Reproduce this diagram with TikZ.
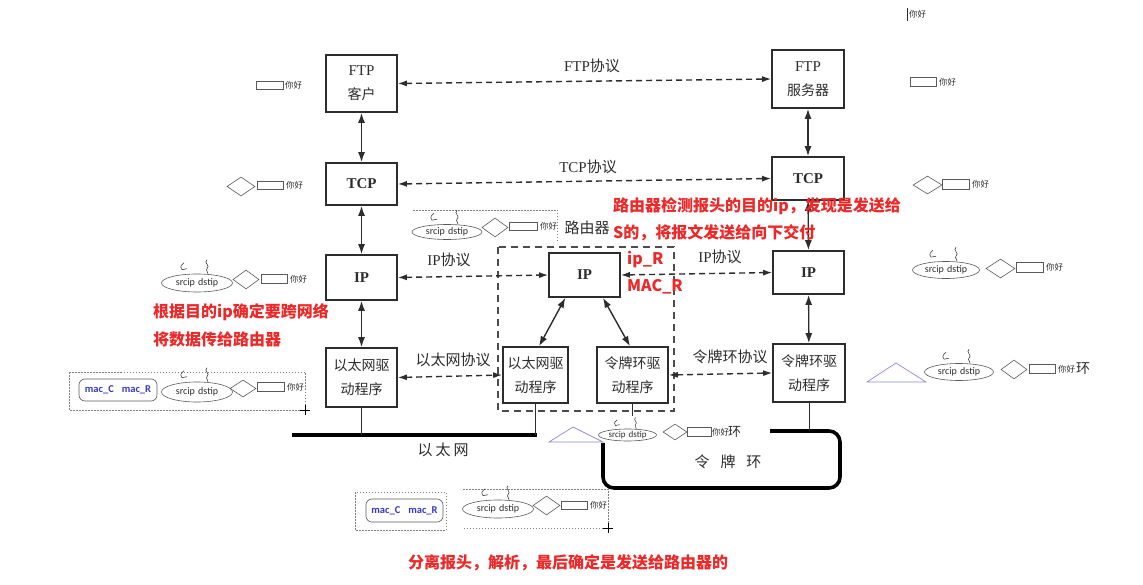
\documentclass[tikz,border=0pt]{standalone}
\usepackage{fontspec}
\setmainfont{Liberation Serif}
\newfontfamily\cjk{Noto Sans CJK SC}
\newfontfamily\carl{Carlito}
\usetikzlibrary{arrows.meta,shapes.geometric}
\definecolor{ink}{RGB}{45,45,45}
\definecolor{redtxt}{RGB}{236,40,40}
\definecolor{macblue}{RGB}{55,55,200}
\definecolor{tri}{RGB}{140,140,215}
\definecolor{thin}{RGB}{90,90,90}
\tikzset{
  box/.style={draw=ink, line width=1.6pt, fill=white, inner sep=0pt, align=center, text=ink,
    font=\fontsize{15}{24}\selectfont},
  cbox/.style={box, font=\cjk\fontsize{14}{24}\selectfont},
  prot/.style={text=ink, inner sep=0pt, font=\fontsize{15}{18}\selectfont},
  biarrow/.style={{Latex[length=10pt,width=7pt]}-{Latex[length=10pt,width=7pt]}, line width=1.4pt, draw=ink},
  dasharrow/.style={{Latex[length=9pt,width=6pt]}-{Latex[length=9pt,width=6pt]}, line width=1.4pt, draw=ink,
    dash pattern=on 6pt off 4pt},
  rdash/.style={draw=ink!85, line width=1.6pt, dash pattern=on 7pt off 5pt},
  bus/.style={draw=black, line width=3.6pt},
  link/.style={draw=ink, line width=0.9pt},
  redlab/.style={text=redtxt, inner sep=0pt, anchor=west, font=\cjk\bfseries\fontsize{16}{18}\selectfont},
  sell/.style={ellipse, draw=thin, line width=0.6pt, inner sep=0pt, text=ink, font=\carl\fontsize{10}{12}\selectfont},
  sdiam/.style={diamond, draw=thin, line width=0.6pt, inner sep=0pt, minimum width=27pt, minimum height=19pt},
  srect/.style={draw=thin, line width=0.6pt, inner sep=0pt, minimum width=27pt, minimum height=9pt},
  hi/.style={text=ink, inner sep=0pt, anchor=west, font=\cjk\fontsize{8.5}{10}\selectfont},
  macbox/.style={draw=thin, line width=0.6pt, rounded corners=6pt, inner sep=0pt, text=macblue,
    font=\carl\bfseries\fontsize{10.5}{12}\selectfont},
  dotbox/.style={draw=gray, line width=0.5pt, dash pattern=on 1.5pt off 1.5pt},
  trishape/.style={draw=tri, line width=0.7pt},
  squig/.pic={
    \draw[line width=0.5pt, ink] (-13,-11) .. controls (-17,-8) and (-17,-5) .. (-15,-4) -- (-10,-5);
    \draw[line width=0.5pt, ink] (10,-14) .. controls (6,-11) and (14,-8) .. (10,-5) .. controls (8,-3) and (12,-2) .. (11,0);
  }
}
\begin{document}
\begin{tikzpicture}[x=1pt,y=-1pt]
\useasboundingbox[fill=white] (0,0) rectangle (1143,585);

% router frame
\draw[rdash] (498,247) rectangle (674,411);
\node[prot] (rlab) at (587,228) {\cjk 路由器};

% main boxes
\node[box, minimum width=71pt, minimum height=57pt] (ftpc) at (361.5,83.5) {FTP\\\cjk\fontsize{14}{24}\selectfont 客户};
\node[box, minimum width=71pt, minimum height=42pt] (tcpl) at (361.5,184) {\bfseries TCP};
\node[box, minimum width=71pt, minimum height=45pt] (ipl) at (361.5,277.5) {\bfseries IP};
\node[cbox, minimum width=71pt, minimum height=59pt] (ethl) at (361.5,377.5) {以太网驱\\动程序};
\node[box, minimum width=72pt, minimum height=58pt] (ftps) at (808,79) {FTP\\\cjk\fontsize{14}{24}\selectfont 服务器};
\node[box, minimum width=72pt, minimum height=43pt] (tcpr) at (808,178.5) {\bfseries TCP};
\node[box, minimum width=71pt, minimum height=43pt] (ipr) at (808.5,272.5) {\bfseries IP};
\node[cbox, minimum width=72pt, minimum height=58pt] (tokr) at (809,373) {令牌环驱\\动程序};
\node[box, minimum width=71pt, minimum height=44pt] (ipm) at (584.5,275) {\bfseries IP};
\node[cbox, minimum width=65pt, minimum height=56pt] (ethm) at (535.5,375) {以太网驱\\动程序};
\node[cbox, minimum width=71pt, minimum height=56pt] (tokm) at (632.5,375) {令牌环驱\\动程序};

% protocol labels
\node[prot] (lftp) at (592,66) {FTP\cjk 协议};
\node[prot] (ltcp) at (588,167) {TCP\cjk 协议};
\node[prot] (lip1) at (449,260) {IP\cjk 协议};
\node[prot] (lip2) at (720,257) {IP\cjk 协议};
\node[prot] (leth) at (453,360) {\cjk 以太网协议};
\node[prot] (ltok) at (730,357) {\cjk 令牌环协议};
\node[prot] (lnet) at (443,450) {\cjk 以\hspace{3pt}太\hspace{3pt}网};
\node[prot] (lring) at (728,462) {\cjk 令\hspace{11pt}牌\hspace{11pt}环};

% vertical stack arrows
\draw[biarrow] (ftpc) -- (tcpl);
\draw[biarrow] (tcpl) -- (ipl);
\draw[biarrow] (ipl) -- (ethl);
\draw[biarrow] (ftps) -- (tcpr);
\draw[biarrow] (tcpr) -- (ipr);
\draw[biarrow] (ipr) -- (tokr);
\draw[biarrow] (ipm.230) -- (ethm.83);
\draw[biarrow] (ipm.309) -- (tokm.95);

% peer protocol arrows
\draw[dasharrow] (ftpc.east) -- (ftps.west);
\draw[dasharrow] (tcpl.east) -- (tcpr.west);
\draw[dasharrow] (ipl.east) -- (ipm.west);
\draw[dasharrow] (ipm.east) -- (ipr.west);
\draw[dasharrow] (ethl.east) -- (ethm.west);
\draw[dasharrow] (tokm.east) -- (tokr.west);

% ethernet bus
\coordinate (busL) at (292,435);
\coordinate (busR) at (537,435);
\draw[bus] (busL) -- (busR);
\draw[link] (ethl.south) -- (ethl.south |- busL);
\draw[link] (ethm.south) -- (ethm.south |- busL);

% token ring
\coordinate (ringT) at (770,431);
\draw[bus, rounded corners=11pt] (ringT) -- (840,431) -- (840,488) -- (603,488) -- (603,443);
\draw[link] (tokr.south) -- (tokr.south |- ringT);
\coordinate (tokmEnd) at (632.5,416);
\draw[link] (tokm.south) -- (tokmEnd);

% red notes
\node[redlab] (n1) at (153,312) {根据目的ip确定要跨网络};
\node[redlab] (n2) at (153,339) {将数据传给路由器};
\node[redlab] (n3) at (613,206) {路由器检测报头的目的ip，发现是发送给};
\node[redlab] (n4) at (613,233) {S的，将报文发送给向下交付};
\node[redlab] (n5) at (627,260) {ip\_R};
\node[redlab] (n6) at (627,287) {MAC\_R};
\node[redlab] (n7) at (408,563) {分离报头，解析，最后确定是发送给路由器的};

% top-right marker
\draw[ink, line width=0.6pt] (907,8) -- (907,21);
\node[hi] (h0) at (909,14) {你好};

% FTP level annotations
\node[srect, minimum width=27pt, minimum height=8pt] (rB) at (269.5,85) {};
\node[hi] (hB) at (285,85) {你好};
\node[srect, minimum width=26pt, minimum height=9pt] (rC) at (923,81.5) {};
\node[hi] (hC) at (939,82) {你好};

% TCP level annotations
\node[sdiam, minimum width=28pt, minimum height=19pt] (dD) at (241,186.5) {};
\node[srect, minimum width=26pt, minimum height=8pt] (rD) at (270,185) {};
\node[hi] (hD) at (286,185) {你好};
\node[sdiam, minimum width=29pt, minimum height=18pt] (dE) at (927.5,185) {};
\node[srect, minimum width=27pt, minimum height=10pt] (rE) at (955.5,184) {};
\node[hi] (hE) at (972,184) {你好};

% annotation above router
\draw[dotbox] (413,210) -- (557,210) -- (557,242);
\node[sell, minimum width=70pt, minimum height=15pt] (eF) at (447,232) {srcip\,\,dstip};
\pic at (eF.north) {squig};
\node[sdiam, minimum width=26pt, minimum height=19pt] (dF) at (495,227.5) {};
\node[srect, minimum width=28pt, minimum height=8pt] (rF) at (523,226) {};
\node[hi] (hF) at (540,226) {你好};

% IP left annotation
\node[sell, minimum width=71pt, minimum height=18pt] (eG) at (197,283) {srcip\,\,dstip};
\pic at (eG.north) {squig};
\node[sdiam, minimum width=26pt, minimum height=19pt] (dG) at (246,279.5) {};
\node[srect, minimum width=26pt, minimum height=9pt] (rG) at (274,278.5) {};
\node[hi] (hG) at (290,279) {你好};

% IP right annotation
\node[sell, minimum width=67pt, minimum height=17pt] (eH) at (946,270) {srcip\,\,dstip};
\pic at (eH.north) {squig};
\node[sdiam, minimum width=29pt, minimum height=19pt] (dH) at (1000.5,268.5) {};
\node[srect, minimum width=27pt, minimum height=10pt] (rH) at (1029.5,267) {};
\node[hi] (hH) at (1046,267) {你好};

% ethernet driver left annotation
\draw[dotbox] (69,372) rectangle (305,410);
\draw[thin, line width=0.5pt] (300,410) -- (310,410) (305,405) -- (305,415);
\node[macbox, minimum width=78pt, minimum height=22pt] (mI) at (118,390) {mac\_C\hspace{8pt}mac\_R};
\node[sell, minimum width=71pt, minimum height=20pt] (eI) at (197,392) {srcip\,\,dstip};
\pic at (eI.north) {squig};
\node[sdiam, minimum width=26pt, minimum height=17pt] (dI) at (243,388.5) {};
\node[srect, minimum width=27pt, minimum height=9pt] (rI) at (270.5,386.5) {};
\node[hi] (hI) at (287,387) {你好};

% token ring driver right annotation
\draw[trishape] (867,382) -- (896,363) -- (926,382) -- cycle;
\node[sell, minimum width=69pt, minimum height=17pt] (eJ) at (959,372) {srcip\,\,dstip};
\pic at (eJ.north) {squig};
\node[sdiam, minimum width=26pt, minimum height=19pt] (dJ) at (1014,369.5) {};
\node[srect, minimum width=26pt, minimum height=9pt] (rJ) at (1042,368.5) {};
\node[hi] (hJ) at (1058,369) {你好};
\node[hi, font=\cjk\fontsize{14}{16}\selectfont] (kJ) at (1076,369) {环};

% token ring middle annotation
\draw[trishape] (549,442) -- (573,427) -- (603,442) -- cycle;
\node[sell, minimum width=58pt, minimum height=12pt, font=\carl\fontsize{9}{10}\selectfont] (eK) at (627.5,435) {srcip\,\,dstip};
\pic[scale=0.8] at (eK.north) {squig};
\node[sdiam, minimum width=24pt, minimum height=16pt] (dK) at (675,432) {};
\node[srect, minimum width=24pt, minimum height=9pt] (rK) at (699,431.5) {};
\node[hi] (hK) at (712,432) {你好};
\node[hi, font=\cjk\fontsize{13}{15}\selectfont] (kK) at (728,432) {环};

% bottom annotations
\draw[dotbox] (355,492) rectangle (446,530);
\node[macbox, minimum width=77pt, minimum height=23pt] (mL) at (404.5,510.5) {mac\_C\hspace{8pt}mac\_R};
\draw[dotbox] (463,489) -- (608,489) -- (608,528) -- (463,528);
\draw[thin, line width=0.5pt] (603,528) -- (613,528) (608,523) -- (608,533);
\node[sell, minimum width=71pt, minimum height=18pt] (eM) at (498,509) {srcip\,\,dstip};
\pic at (eM.north) {squig};
\node[sdiam, minimum width=27pt, minimum height=19pt] (dM) at (546.5,505.5) {};
\node[srect, minimum width=26pt, minimum height=8pt] (rM) at (574,505) {};
\node[hi] (hM) at (590,505) {你好};
\end{tikzpicture}
\end{document}
